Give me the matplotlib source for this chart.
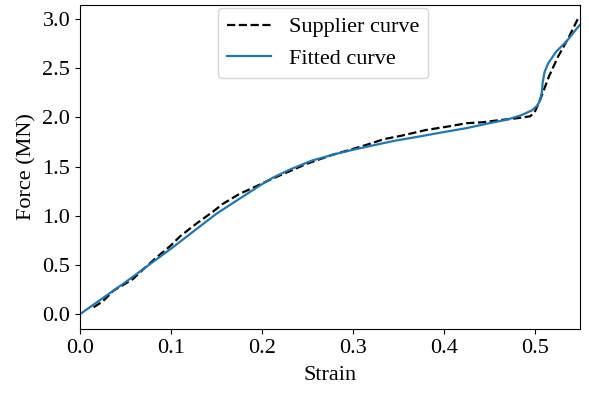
import numpy as np
import matplotlib
matplotlib.use('Agg')
import matplotlib.pyplot as plt

strain_supplier = [0.015, 0.025, 0.037, 0.048, 0.058, 0.07, 0.084, 0.099, 0.11, 0.128, 0.146,
                   0.157, 0.175, 0.194, 0.21, 0.23, 0.25, 0.278, 0.297, 0.315, 0.335, 0.352,
                   0.38, 0.407, 0.425, 0.443, 0.46, 0.48, 0.495, 0.5, 0.507, 0.516, 0.526,
                   0.538, 0.547, 0.549]
force_supplier = [0.07, 0.13, 0.24, 0.30, 0.355, 0.46, 0.575, 0.69, 0.79, 0.92, 1.04,
                  1.12, 1.22, 1.30, 1.37, 1.45, 1.53, 1.62, 1.67, 1.72, 1.78, 1.81,
                  1.87, 1.91, 1.94, 1.95, 1.97, 1.99, 2.01, 2.05, 2.20, 2.42, 2.62,
                  2.82, 2.99, 3.02]

# fitted model output
strain_fit = [0.0, 0.05, 0.1, 0.15, 0.18, 0.2, 0.212, 0.231, 0.255, 0.278, 0.3, 0.315,
              0.345, 0.37, 0.4, 0.425, 0.45, 0.469, 0.485, 0.497, 0.503, 0.506, 0.508, 0.509,
              0.511, 0.515, 0.524, 0.535, 0.548, 0.55]
force_fit = [0.0, 0.325, 0.665, 1.02, 1.2, 1.32, 1.386, 1.47, 1.56, 1.62, 1.67, 1.70,
             1.76, 1.80, 1.85, 1.89, 1.94, 1.975, 2.02, 2.07, 2.12, 2.17, 2.26, 2.36,
             2.46, 2.55, 2.67, 2.77, 2.92, 2.94]

plt.rcParams['font.family'] = ['Liberation Serif', 'DejaVu Serif']
plt.rcParams['font.size'] = 16

fig = plt.figure(figsize=(5.89, 3.93), dpi=100)
ax = fig.add_axes([0.1358, 0.163, 0.849, 0.824])

ax.plot(strain_supplier, force_supplier, '--', color='black', linewidth=1.6, label='Supplier curve')
ax.plot(strain_fit, force_fit, '-', color='#1f77b4', linewidth=1.6, label='Fitted curve')

ax.set_xlim(0, 0.55)
ax.set_ylim(-0.15, 3.14)
ax.set_xticks([0.0, 0.1, 0.2, 0.3, 0.4, 0.5])
ax.set_yticks([0.0, 0.5, 1.0, 1.5, 2.0, 2.5, 3.0])
ax.set_xlabel('Strain', labelpad=6)
ax.set_ylabel('Force (MN)')
ax.legend(loc='upper left', bbox_to_anchor=(0.276, 0.991), borderaxespad=0)

fig.savefig('out.png', dpi=100)
